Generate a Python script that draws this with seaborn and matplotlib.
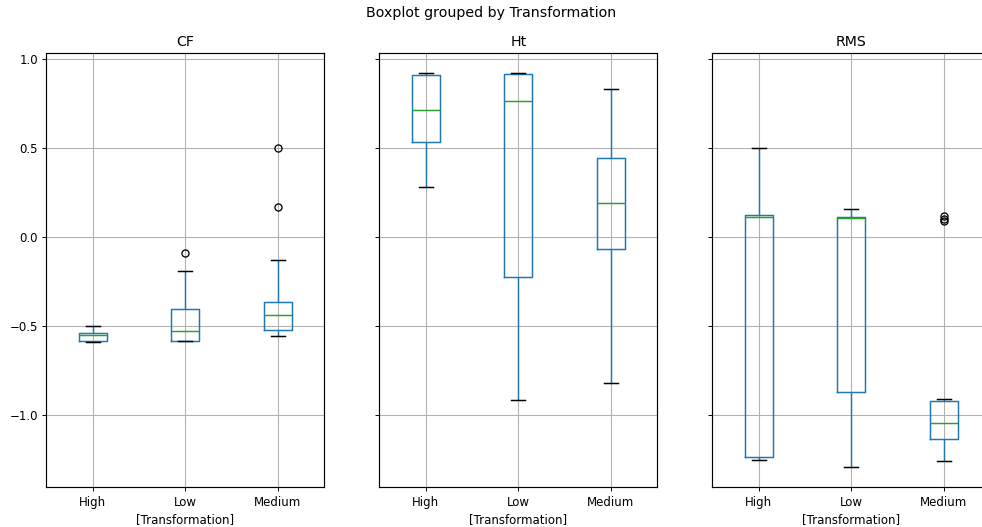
import numpy as np
import pandas as pd
import matplotlib
matplotlib.use("Agg")
import matplotlib.pyplot as plt
import seaborn as sns

# ---- data ----
groups = ["High", "Low", "Medium"]
features = ["CF", "Ht", "RMS"]

cf_high = [-0.586, -0.581, -0.547, -0.537, -0.498]
cf_low = [-0.584, -0.582, -0.581, -0.560, -0.528, -0.450, -0.401, -0.191, -0.088]
cf_medium = [-0.556, -0.540, -0.530, -0.522, -0.490, -0.460, -0.435,
             -0.410, -0.390, -0.363, -0.130, 0.170, 0.498]

ht_high = [0.279, 0.534, 0.713, 0.908, 0.923]
ht_low = [-0.916, -0.223, 0.764, 0.914, 0.921]
ht_medium = [-0.818, -0.064, 0.189, 0.442, 0.831]

rms_high = [-1.251, -1.232, 0.112, 0.122, 0.502]
rms_low = [-1.292, -0.869, 0.110, 0.114, 0.159]
rms_medium = [-1.257, -1.200, -1.150, -1.140, -1.131, -1.100, -1.070, -1.055,
              -1.041, -1.010, -0.980, -0.940, -0.921, -0.910, 0.088, 0.100, 0.118]

values = {
    "CF": {"High": cf_high, "Low": cf_low, "Medium": cf_medium},
    "Ht": {"High": ht_high, "Low": ht_low, "Medium": ht_medium},
    "RMS": {"High": rms_high, "Low": rms_low, "Medium": rms_medium},
}

rows = []
for f in features:
    for g in groups:
        for v in values[f][g]:
            rows.append({"feature": f, "Transformation": g, "value": v})
df = pd.DataFrame(rows)

# ---- figure ----
DPI = 85
fig = plt.figure(figsize=(982 / DPI, 527 / DPI), dpi=DPI)
plt.rcParams["font.family"] = ["DejaVu Sans"]

bottom = 1 - 487.3 / 527
height = (487.3 - 52.7) / 527
width = 278 / 982
lefts = [46.3 / 982, 379.3 / 982, 712.3 / 982]

LW = 1.25
BLUE = "#1f77b4"
axes = []
for i, f in enumerate(features):
    if i == 0:
        ax = fig.add_axes([lefts[i], bottom, width, height])
    else:
        ax = fig.add_axes([lefts[i], bottom, width, height], sharey=axes[0])
    axes.append(ax)
    sub = df[df["feature"] == f]
    sns.boxplot(
        data=sub, x="Transformation", y="value", order=groups, ax=ax,
        width=0.3, fill=False, color=BLUE, saturation=1, linewidth=LW,
        whis=1.5, fliersize=6,
        medianprops=dict(color="#2ca02c", linewidth=LW),
        whiskerprops=dict(color=BLUE, linewidth=LW),
        capprops=dict(color="black", linewidth=LW),
        boxprops=dict(color=BLUE, linewidth=LW),
        flierprops=dict(marker="o", markerfacecolor="none",
                        markeredgecolor="black", markersize=6,
                        markeredgewidth=1.1),
    )
    ax.set_title(f, fontsize=12)
    ax.set_xlabel("[Transformation]", fontsize=10)
    ax.set_ylabel("")
    ax.grid(True, color="#b0b0b0", linewidth=0.9)
    ax.set_axisbelow("line")
    ax.tick_params(labelsize=10)
    if i > 0:
        ax.tick_params(labelleft=False)
    for s in ax.spines.values():
        s.set_linewidth(1.0)

axes[0].set_yticks([-1.0, -0.5, 0.0, 0.5, 1.0])
axes[0].set_ylim(-1.404, 1.035)

fig.suptitle("Boxplot grouped by Transformation", fontsize=12,
             y=1 - 6 / 527, va="top")

fig.savefig("out.png", dpi=DPI)
